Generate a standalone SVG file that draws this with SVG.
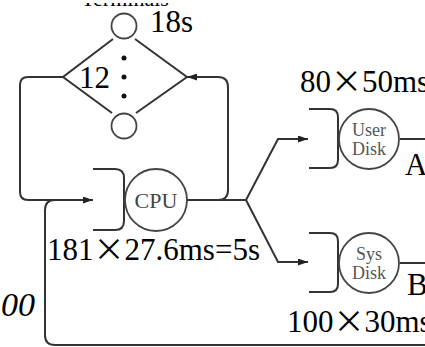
<svg xmlns="http://www.w3.org/2000/svg" width="425" height="347" viewBox="0 0 425 347">
<style>
.ln{fill:none;stroke:#333;stroke-width:2}
.nd{fill:#fff;stroke:#444;stroke-width:1.8}
.t{font-family:"Liberation Serif","Times New Roman",serif;font-size:31px;fill:#000}
.x{font-family:"Noto Sans CJK JP","Liberation Serif",serif}
.nt{font-family:"Liberation Serif","Times New Roman",serif;font-size:18px;fill:#555;text-anchor:middle}
</style>
<defs>
<marker id="ah" markerWidth="10" markerHeight="7" refX="10" refY="3.5" orient="auto" markerUnits="userSpaceOnUse">
<path d="M0,0 L10,3.5 L0,7 z" fill="#222"/>
</marker>
<clipPath id="topclip"><rect x="0" y="3" width="425" height="3"/></clipPath>
</defs>
<rect width="425" height="347" fill="#fff"/>
<g id="connectors">
<path class="ln" d="M63,77 H28 Q20,77 20,85 V192 Q20,200 28,200 H93" marker-end="url(#ah)"/>
<path class="ln" d="M187,200 H246"/>
<path class="ln" d="M218,200 Q228,200 228,190 V87 Q228,77 218,77 H187" marker-end="url(#ah)"/>
<path class="ln" d="M425,345 H55 Q45,345 45,335 V210 Q45,200 55,200"/>
<path class="ln" d="M246,200 L278,139 H308" marker-end="url(#ah)"/>
<path class="ln" d="M246,200 L278,262 H308" marker-end="url(#ah)"/>
<path class="ln" d="M400,139 H425"/>
<path class="ln" d="M400,263 H425"/>
</g>
<g id="terminals">
<text x="125" y="5.5" text-anchor="middle" clip-path="url(#topclip)" style="font-family:'Liberation Serif',serif;font-size:22px">Terminals</text>
<path class="ln" d="M113,39 L63,77 L112,113 M135,39 L187,77 L136,113"/>
<circle class="nd" cx="124" cy="26" r="12.5"/>
<circle class="nd" cx="124" cy="126" r="12.5"/>
<circle cx="124" cy="58" r="2.5" fill="#111"/>
<circle cx="124" cy="77" r="2.5" fill="#111"/>
<circle cx="124" cy="96" r="2.5" fill="#111"/>
<text class="t" x="79" y="88">12</text>
<text class="t" x="150" y="32">18s</text>
</g>
<g id="cpu">
<path class="ln" d="M93,169 H115 Q124,169 124,178 V221 Q124,230 115,230 H93"/>
<circle class="nd" cx="156" cy="200" r="31"/>
<text x="156" y="207.5" style="font-family:'Liberation Serif',serif;font-size:22px;fill:#444" text-anchor="middle">CPU</text>
<text class="t" x="47" y="260">181<tspan class="x">×</tspan>27.6ms=5s</text>
</g>
<g id="userdisk">
<path class="ln" d="M309,109 H330 Q338,109 338,117 V160 Q338,168 330,168 H309"/>
<circle class="nd" cx="369" cy="139" r="30"/>
<text class="nt" x="369" y="136">User</text>
<text class="nt" x="369" y="155">Disk</text>
<text class="t" x="300" y="92">80<tspan class="x">×</tspan>50ms</text>
<text class="t" x="405" y="175">A</text>
</g>
<g id="sysdisk">
<path class="ln" d="M309,233 H330 Q338,233 338,241 V284 Q338,292 330,292 H309"/>
<circle class="nd" cx="369" cy="263" r="30"/>
<text class="nt" x="369" y="260">Sys</text>
<text class="nt" x="369" y="279">Disk</text>
<text class="t" x="407" y="295">B</text>
<text class="t" x="287" y="332">100<tspan class="x">×</tspan>30ms</text>
</g>
<text class="t" x="1" y="316" style="font-style:italic;font-size:34px">00</text>
</svg>
